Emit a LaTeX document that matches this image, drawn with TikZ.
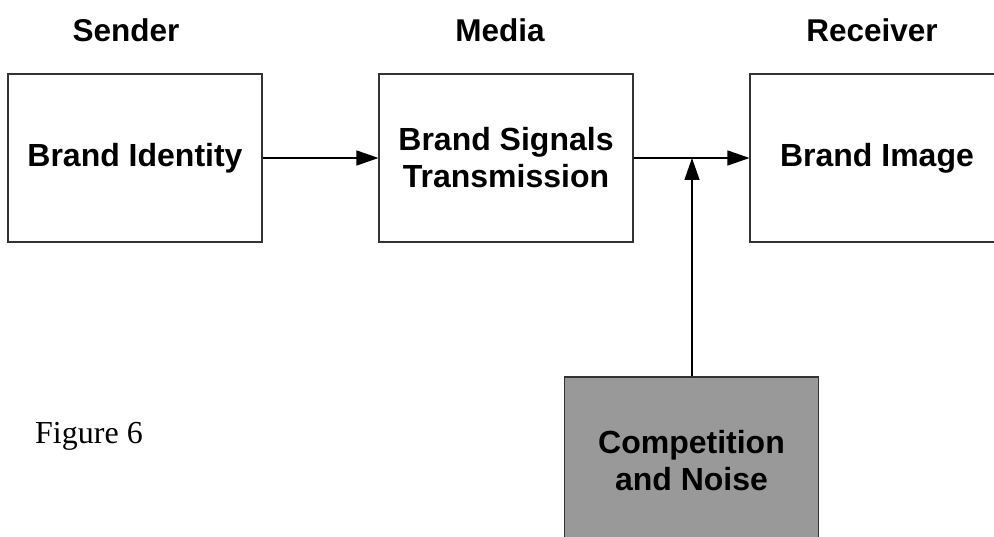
\documentclass[tikz,border=0pt]{standalone}
\usepackage{fontspec}
\setmainfont{Liberation Serif}
\newfontfamily\arialfont{Liberation Sans}
\usetikzlibrary{arrows.meta}
\definecolor{boxline}{HTML}{333333}
\definecolor{noisegray}{HTML}{999999}
\begin{document}
\begin{tikzpicture}[x=1pt,y=-1pt,
  blockbox/.style={draw=boxline,line width=1.1pt,minimum width=254pt,minimum height=168pt,inner sep=0pt,align=center,
    font=\arialfont\bfseries\fontsize{32}{37}\selectfont},
  headtext/.style={anchor=base,inner sep=0pt,font=\arialfont\bfseries\fontsize{31.5}{36}\selectfont},
  flow/.style={draw=black,line width=1.3pt,-{Triangle[length=22pt,width=15pt]}}]
\useasboundingbox (0,0) rectangle (994,537);
\clip (0,0) rectangle (994,537);
\node[headtext] (hs) at (126,42) {Sender};
\node[headtext] (hm) at (500,42) {Media};
\node[headtext] (hr) at (872,42) {Receiver};
\node[blockbox] (sender) at (135,158) {Brand Identity};
\node[blockbox] (media) at (506,158) {Brand Signals\\Transmission};
\node[blockbox] (receiver) at (877,158) {Brand Image};
\node[blockbox,fill=noisegray] (noise) at (691.5,461) {Competition\\and Noise};
\coordinate (join) at (692,158);
\draw[flow] (sender.east) -- (media.west);
\draw[flow] (media.east) -- (receiver.west);
\draw[flow] (noise.north -| join) -- (join);
\node[anchor=base west,inner sep=0pt,font=\fontsize{32}{38}\selectfont] (fig) at (35,443) {Figure 6};
\end{tikzpicture}
\end{document}
